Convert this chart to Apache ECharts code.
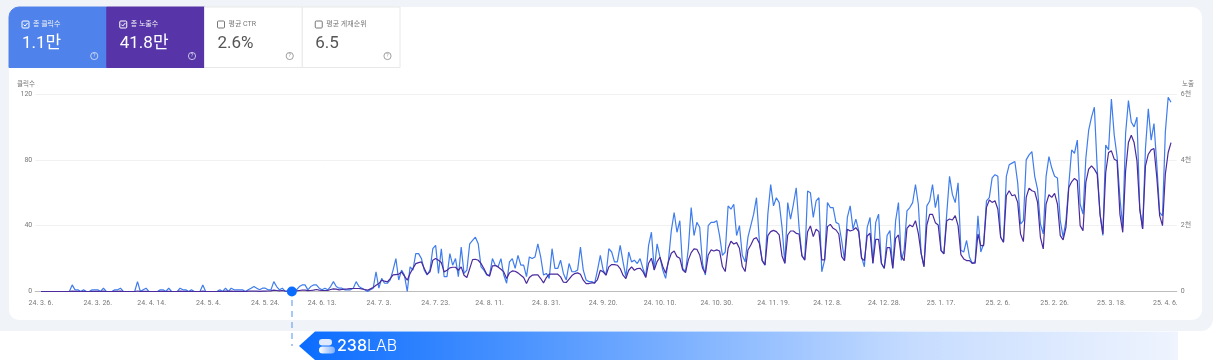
<!DOCTYPE html>
<html><head><meta charset="utf-8">
<style>html,body{margin:0;padding:0;background:#fff}#c{width:1213px;height:361px}</style>
<script src="https://cdn.jsdelivr.net/npm/echarts@6/dist/echarts.min.js"></script>
</head><body><div id="c"></div>
<script>
// Daily values, 2024-03-06 onward
const clicksA=[0,0,0,0,0,0,0,0,0,0,0,4,1,1,0,1,0,0,1,1,1,0,2,0,0,0,1,1,2,0,0,0,0,0,6,0,1,2,0,0,0,0,1,1,0,2,0,0,0,2,1,1,0,1,0,0,0,4,0,0,0,0,0,1,0,2,0,2,1,1,1,1,0,1,2,3,2,1,2,2,1,1,6,3,1,2,0,0,1,2,1,3,4,4,1,3,4,4,2,1,2,1,3,6,3,2,2,1,1];
const clicksB=[1,2,6,3,2,1,0,1,2,12,2,8,5,5,7,13,20,7,13,10,0,15,13,23,23,20,13,10,13,26,28,11,26,9,9,23,16,20,9,27,11,13,29,31,33,29,15,13,10,10,20,16,15,20,10,5,18,20,14,22,16,16,9,21,20,21,29,21,10,11,8,26,14,14,19,11,7,17,12,12,13,27,13,7,6,6,5,13,22,13,10,26,24,18,18,28,18,9,24,18,19,17];
const clicksC=[20,14,9,28,36,13,29,21,13,8,19,37,48,36,43,14,12,26,51,34,42,39,17,10,40,42,42,43,34,22,24,52,50,53,34,40,22,18,33,40,47,57,31,19,16,47,65,52,57,54,39,17,54,44,53,63,39,22,19,61,60,45,55,57,12,19,54,51,51,42,41,31,19,45,52,38,44,37,21,15,39,45,17,42,47,17,14,34,37,14,43,54,19,25,49,51,54,65,53,23,15,52,55,65,51,59];
const clicksD=[25,23,47,70,59,54,66,25,24,31,21,17,18,46,24,29,55,57,69,71,70,33,30,70,77,78,79,66,41,43,80,83,85,70,62,41,35,70,82,75,70,69,43,33,43,65,86,84,92,53,47,81,98,106,112,75,47,34,89,86,117,95,82,57,39,96,116,103,100,106,50,38,87,111,92,102,77,48,46,97,118,115];
const imprA=[0,0,0,0,0,0,0,0,0,0,0,10,5,5,0,5,0,0,5,5,5,0,10,0,0,0,5,5,10,0,0,0,0,0,15,0,5,5,0,0,0,0,5,5,0,5,0,0,0,10,5,5,0,5,0,0,0,10,0,0,0,0,0,5,0,10,5,10,5,5,5,5,0,10,10,10,10,5,10,10,15,20,40,30,20,30,15,15,20,30,20,30,40,40,25,30,40,60,40,30,30,30,60,80,70,50,60,70,80];
const imprB=[91,91,91,91,80,60,40,80,121,192,242,343,313,293,394,505,515,525,596,465,343,545,697,848,879,899,697,525,596,949,1000,949,879,596,646,717,737,737,646,747,495,424,697,970,980,949,848,697,525,465,778,788,747,677,596,394,566,626,616,566,495,424,242,424,495,505,505,394,263,424,525,525,525,525,444,283,273,374,485,545,566,525,343,242,242,263,263,364,646,596,495,747,818,818,798,697,495,394,646,747,646,697];
const imprC=[707,606,424,859,1010,657,909,1040,758,556,909,1162,1232,1060,1010,657,576,960,1182,1293,1283,1111,707,556,1111,1263,1232,1263,1232,758,606,1313,1525,1444,1485,1313,758,606,1263,1414,1596,1636,1465,939,808,1697,1818,1858,1818,1717,1081,859,1717,1838,1838,1768,1747,1081,960,1818,1990,1667,1889,1818,960,960,1970,2040,1919,1869,1747,1061,939,1889,1838,1869,1939,1818,1010,939,1687,1768,859,1586,1586,859,707,1333,1333,707,1616,1717,1061,939,1919,2020,1970,2151,1768,1162,758,2020,2343,2343,2091,2020];
const imprD=[1242,1141,2151,2202,2172,2303,2000,1121,990,939,939,859,859,1747,1394,1394,2555,2778,2707,2757,2505,1646,1495,2909,3060,2909,2939,2707,1747,1515,2858,3141,3060,3030,2707,1646,1293,2656,2939,2858,2980,2656,1697,1566,1949,3161,3333,3434,3363,2000,1848,3313,3717,3818,3717,3565,2353,1747,3616,4222,4272,4020,3969,2353,1798,3666,4525,4747,4525,3969,2505,1899,3818,4171,4303,4343,3464,2303,2000,3565,4222,4525];
const tickLabels=['24. 3. 6.','24. 3. 26.','24. 4. 14.','24. 5. 4.','24. 5. 24.','24. 6. 13.','24. 7. 3.','24. 7. 23.','24. 8. 11.','24. 8. 31.','24. 9. 20.','24. 10. 10.','24. 10. 30.','24. 11. 19.','24. 12. 8.','24. 12. 28.','25. 1. 17.','25. 2. 6.','25. 2. 26.','25. 3. 18.','25. 4. 6.'];
const rightTickLabels={0:'0',2000:'2천',4000:'4천',6000:'6천'};
const kpis=[
 {label:'총 클릭수',value:'1.1만',bg:'#4f82ea',on:true},
 {label:'총 노출수',value:'41.8만',bg:'#5735a8',on:true},
 {label:'평균 CTR',value:'2.6%',bg:'#ffffff',on:false},
 {label:'평균 게재순위',value:'6.5',bg:'#ffffff',on:false}];

const PAD=[null,null];
const clicks=[...PAD,...clicksA,...clicksB,...clicksC,...clicksD,...PAD];
const impressions=[...PAD,...imprA,...imprB,...imprC,...imprD,...PAD];
const categories=clicks.map((_,i)=>{const d=new Date(2024,2,4+i);return (d.getFullYear()%100)+'. '+(d.getMonth()+1)+'. '+d.getDate()+'.';});
const tickSet=new Set(tickLabels);
const FONT='Roboto,"Noto Sans CJK KR",sans-serif';
const g=[];
const txt=(x,y,text,size,fill,extra)=>g.push({type:'text',z:-1,x,y,style:Object.assign({text,fontSize:size,fill,fontFamily:FONT,textVerticalAlign:'middle'},extra||{})});
// panels
g.push({type:'rect',z:-5,shape:{x:-20,y:-20,width:1233,height:351,r:12},style:{fill:'#f0f3f8'}});
g.push({type:'rect',z:-4,shape:{x:9,y:7,width:1193,height:313,r:10},style:{fill:'#fff'}});
// KPI tiles
kpis.forEach((k,i)=>{
  const x=9+i*97.75, w=97.75, on=k.on;
  g.push({type:'rect',z:-3,shape:{x,y:7,width:w,height:60.5,r:i==0?[10,0,0,0]:0},style:{fill:k.bg,stroke:on?k.bg:'#e8e8e8',lineWidth:1}});
  const cx=x+13;
  g.push({type:'rect',z:-1,shape:{x:cx,y:21,width:7,height:7,r:1},style:{fill:on?'rgba(255,255,255,0.05)':'#fff',stroke:on?'#fff':'#777',lineWidth:1}});
  if(on) g.push({type:'polyline',z:-1,shape:{points:[[cx+1.6,24.6],[cx+3,26],[cx+5.6,23]]},style:{stroke:'#fff',lineWidth:1,fill:null}});
  txt(cx+11,24.5,k.label,7,on?'#f2f2f2':'#777');
  txt(cx,43.5,k.value,17,on?'#fff':'#555');
  const hx=x+w-12.5;
  g.push({type:'circle',z:-1,shape:{cx:hx,cy:56,r:3.6},style:{fill:'none',stroke:on?'#dfe6f8':'#888',lineWidth:0.8}});
  txt(hx,56,'?',5,on?'#dfe6f8':'#888',{textAlign:'center'});
});
// axis titles
txt(17,84.5,'클릭수',6.5,'#777');
txt(1182,84.5,'노출',6.5,'#777');
// pointer + banner
g.push({type:'line',z:-1,shape:{x1:292,y1:300,x2:292,y2:346},style:{stroke:'#6ea4f0',lineWidth:1.2,lineDash:[6,5]}});
g.push({type:'polygon',z:-1,shape:{points:[[299,346],[315,331.5],[1178,331.5],[1178,360],[315,360]]},
  style:{fill:new echarts.graphic.LinearGradient(0,0,1,0,[{offset:0,color:'#0a6cff'},{offset:0.25,color:'#4a93ff'},{offset:0.7,color:'#c6dcff'},{offset:1,color:'#eff4fe'}])}});
g.push({type:'rect',z:-1,shape:{x:319,y:339,width:13,height:6.5,r:3.2},style:{fill:'#dfeaff'}});
g.push({type:'rect',z:-1,shape:{x:319,y:346.5,width:16,height:7,r:3.5},style:{fill:new echarts.graphic.LinearGradient(0,0,1,0,[{offset:0,color:'#fff'},{offset:1,color:'#7fb0ff'}])}});
g.push({type:'text',z:-1,x:337,y:346,style:{fill:'#fff',fontFamily:'Inter,'+FONT,textVerticalAlign:'middle',
  text:'{a|238}{b|LAB}',rich:{a:{fontSize:16,fontWeight:500,fill:'#fff',fontFamily:'Inter'},b:{fontSize:16,fontWeight:300,fill:'#fff',fontFamily:'Inter'}}}});

const chart=echarts.init(document.getElementById('c'),null,{renderer:'canvas'});
chart.setOption({
  animation:false,
  graphic:g,
  grid:{left:35.3,top:94,width:1141.4,height:197.5,containLabel:false},
  xAxis:{type:'category',data:categories,boundaryGap:false,
    axisLine:{lineStyle:{color:'#bcbcbc',width:1.2}},axisTick:{show:false},splitLine:{show:false},
    axisLabel:{interval:(i,v)=>tickSet.has(v),fontSize:7,color:'#777',fontFamily:FONT,margin:8,hideOverlap:false}},
  yAxis:[
    {type:'value',min:0,max:120,interval:40,axisLine:{show:false},axisTick:{show:false},
     splitLine:{lineStyle:{color:'#f1f1f1',width:1}},
     axisLabel:{fontSize:7,color:'#777',fontFamily:FONT,margin:3}},
    {type:'value',min:0,max:6000,interval:2000,axisLine:{show:false},axisTick:{show:false},splitLine:{show:false},
     axisLabel:{fontSize:7,color:'#777',fontFamily:FONT,margin:4,formatter:v=>rightTickLabels[v]}}
  ],
  series:[
    {name:'클릭수',type:'line',yAxisIndex:0,showSymbol:false,silent:true,z:3,
     data:clicks,lineStyle:{color:'#3f7cec',width:1.2},itemStyle:{color:'#3f7cec'},
     markPoint:{silent:true,symbol:'circle',symbolSize:10,symbolOffset:[1,0],itemStyle:{color:'#0a6cff'},label:{show:false},animation:false,
       data:[{coord:[categories[90],0]}]}},
    {name:'노출수',type:'line',yAxisIndex:1,showSymbol:false,silent:true,z:4,
     data:impressions,lineStyle:{color:'#4a2a9c',width:1.2},itemStyle:{color:'#4a2a9c'}}
  ]
});
</script></body></html>
